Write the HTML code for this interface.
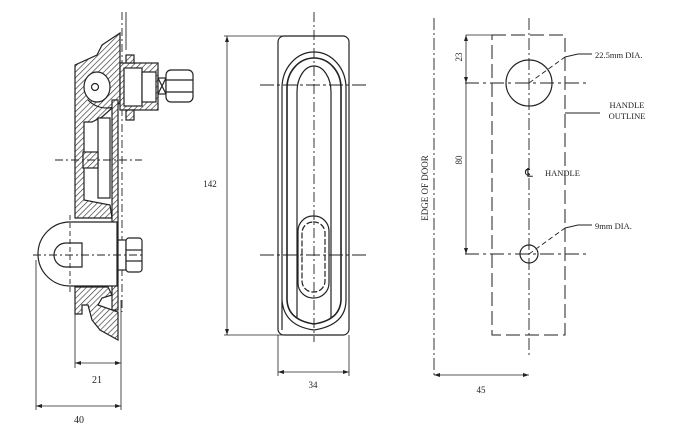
<!DOCTYPE html>
<html><head><meta charset="utf-8"><style>
html,body{margin:0;padding:0;background:#fff}
svg{display:block}
text{font-family:"Liberation Serif",serif;fill:#222}
</style></head><body>
<svg width="700" height="426" viewBox="0 0 700 426" xmlns="http://www.w3.org/2000/svg">
<defs>
<pattern id="h" width="4" height="4" patternUnits="userSpaceOnUse" patternTransform="rotate(45)">
<rect width="4" height="4" fill="#fff"/><line x1="0" y1="0" x2="0" y2="4" stroke="#333" stroke-width="1.3"/>
</pattern>
</defs>
<g stroke="#222" stroke-width="1.2" fill="none">
<!-- ===== SIDE VIEW ===== -->
<line x1="122" y1="12" x2="122" y2="312" stroke-dasharray="8 3 2 3" stroke-width="0.9"/>
<line x1="126" y1="12" x2="126" y2="50" stroke-width="0.9"/>
<path d="M75,65 L97,55 L102,45 L120,33 L120,103 L112,108 L102,117 L92,122 L84,122 L84,200 L110,205 L112,218 L75,218 Z" fill="url(#h)"/>
<ellipse cx="97" cy="87" rx="13" ry="15" fill="#fff"/>
<circle cx="95" cy="87" r="3.5" fill="#fff"/>
<path d="M88,100 Q100,112 118,106" />
<rect x="112" y="100" width="6" height="210" fill="url(#h)"/>
<rect x="98" y="118" width="12" height="80" fill="#fff"/>
<rect x="83" y="152" width="15" height="16" fill="url(#h)"/>
<rect x="120" y="63" width="38" height="47" fill="url(#h)"/>
<rect x="124" y="68" width="18" height="38" fill="#fff"/>
<rect x="142" y="72" width="14" height="30" fill="#fff"/>
<rect x="126" y="55" width="8" height="8" fill="url(#h)"/>
<rect x="126" y="110" width="8" height="10" fill="url(#h)"/>
<rect x="158" y="78" width="8" height="16" fill="#fff"/>
<path d="M158,78 L166,94 M158,94 L166,78"/>
<rect x="166" y="70" width="27" height="32" rx="5" fill="#fff"/>
<line x1="166" y1="80" x2="193" y2="80"/><line x1="166" y1="92" x2="193" y2="92"/>
<path d="M117,222 L70,222 A32,32 0 0 0 70,286 L117,286 Z" fill="#fff"/>
<path d="M82,243 L66,243 A12,12 0 0 0 66,267 L82,267 Z" fill="#fff"/>
<line x1="70" y1="215" x2="70" y2="295" stroke-dasharray="5 3" stroke-width="0.9"/>
<rect x="118" y="240" width="8" height="30" fill="#fff"/>
<rect x="126" y="238" width="16" height="34" rx="3" fill="#fff"/>
<line x1="126" y1="250" x2="142" y2="250"/><line x1="126" y1="261" x2="142" y2="261"/>
<path d="M75,287 L108,287 L112,295 L102,298 L98,305 L118,312 L118,340 L100,330 L92,320 L88,305 L82,305 L82,314 L75,314 Z" fill="url(#h)"/>
<line x1="55" y1="160" x2="142" y2="160" stroke-dasharray="8 3 2 3" stroke-width="0.9"/>
<line x1="33" y1="255" x2="145" y2="255" stroke-dasharray="8 3 2 3" stroke-width="0.9"/>
<line x1="75" y1="290" x2="75" y2="368" stroke-width="0.8"/>
<line x1="121" y1="300" x2="121" y2="410" stroke-width="0.8"/>
<line x1="36" y1="260" x2="36" y2="410" stroke-width="0.8"/>
<line x1="75" y1="363" x2="121" y2="363" stroke-width="0.8"/>
<line x1="36" y1="406" x2="121" y2="406" stroke-width="0.8"/>
<!-- ===== FRONT VIEW ===== -->
<rect x="278" y="36" width="71" height="299" rx="6"/>
<path d="M282,330 L282,88 A32,36 0 0 1 346,88 L346,300 Q346,325 314,330 Q284,326 282,300"/>
<path d="M287,300 L287,88 A27,30 0 0 1 341,88 L341,300 Q340,320 314,324 Q288,320 287,300" stroke-width="1.6"/>
<path d="M297,318 L297,92 A17,26 0 0 1 331,92 L331,318"/>
<rect x="298" y="216" width="31" height="82" rx="15"/>
<rect x="302" y="222" width="23" height="70" rx="11" stroke-dasharray="6 2"/>
<line x1="314" y1="12" x2="314" y2="342" stroke-dasharray="10 3 2 3" stroke-width="0.9"/>
<line x1="260" y1="85" x2="368" y2="85" stroke-dasharray="14 3 3 3" stroke-width="0.9"/>
<line x1="260" y1="255" x2="368" y2="255" stroke-dasharray="14 3 3 3" stroke-width="0.9"/>
<line x1="224" y1="36" x2="285" y2="36" stroke-width="0.8"/>
<line x1="224" y1="335" x2="285" y2="335" stroke-width="0.8"/>
<line x1="227" y1="36" x2="227" y2="335" stroke-width="0.8"/>
<line x1="278" y1="335" x2="278" y2="376" stroke-width="0.8"/>
<line x1="349" y1="335" x2="349" y2="376" stroke-width="0.8"/>
<line x1="278" y1="372" x2="349" y2="372" stroke-width="0.8"/>
<!-- ===== TEMPLATE ===== -->
<line x1="434" y1="18" x2="434" y2="376" stroke-dasharray="12 3 2 3" stroke-width="0.9"/>
<rect x="492" y="35" width="73" height="300" stroke-dasharray="14 5" stroke-width="1"/>
<line x1="529" y1="18" x2="529" y2="355" stroke-dasharray="12 3 2 3" stroke-width="0.9"/>
<circle cx="529" cy="83" r="23"/>
<circle cx="529" cy="254" r="9"/>
<line x1="465" y1="83" x2="586" y2="83" stroke-dasharray="14 4 3 4" stroke-width="0.9"/>
<line x1="465" y1="254" x2="590" y2="254" stroke-dasharray="14 4 3 4" stroke-width="0.9"/>
<line x1="466" y1="35" x2="466" y2="254" stroke-width="0.8"/>
<line x1="466" y1="35" x2="492" y2="35" stroke-width="0.8"/>
<path d="M529,83 L565,57" stroke-dasharray="5 3" stroke-width="0.9"/>
<path d="M565,57 L578,54 L592,54" stroke-width="0.9"/>
<path d="M529,254 L565,228" stroke-dasharray="5 3" stroke-width="0.9"/>
<path d="M565,228 L578,225 L592,225" stroke-width="0.9"/>
<line x1="565" y1="113" x2="600" y2="113" stroke-width="0.9"/>
<line x1="434" y1="375" x2="529" y2="375" stroke-width="0.8"/>
</g>
<g fill="#222">
<path d="M75,363 l6,-2 v4z M121,363 l-6,-2 v4z M36,406 l6,-2 v4z M121,406 l-6,-2 v4z M227,36 l-2,6 h4z M227,335 l-2,-6 h4z M278,372 l6,-2 v4z M349,372 l-6,-2 v4z M434,375 l6,-2 v4z M529,375 l-6,-2 v4z M466,35 l-2,6 h4z M466,83 l-2,-6 h4z M466,254 l-2,-6 h4z"/>
</g>
<g font-size="10">
<text x="97" y="383" text-anchor="middle">21</text>
<text x="79" y="423" text-anchor="middle">40</text>
<text x="210" y="187" text-anchor="middle" font-size="9">142</text>
<text x="313" y="388" text-anchor="middle" font-size="9">34</text>
<text x="481" y="393" text-anchor="middle" font-size="9">45</text>
<text transform="translate(462,57) rotate(-90)" text-anchor="middle" font-size="9">23</text>
<text transform="translate(462,160) rotate(-90)" text-anchor="middle" font-size="9">80</text>
<text transform="translate(428,188) rotate(-90)" text-anchor="middle" font-size="9">EDGE OF DOOR</text>
<text x="595" y="58" font-size="8.5">22.5mm DIA.</text>
<text x="595" y="229" font-size="8.5">9mm DIA.</text>
<text x="627" y="108" text-anchor="middle" font-size="8.5">HANDLE</text>
<text x="627" y="119" text-anchor="middle" font-size="8.5">OUTLINE</text>
<text x="529" y="177" text-anchor="middle" font-size="12">℄</text>
<text x="545" y="176" font-size="8.5">HANDLE</text>
</g>
</svg>
</body></html>
